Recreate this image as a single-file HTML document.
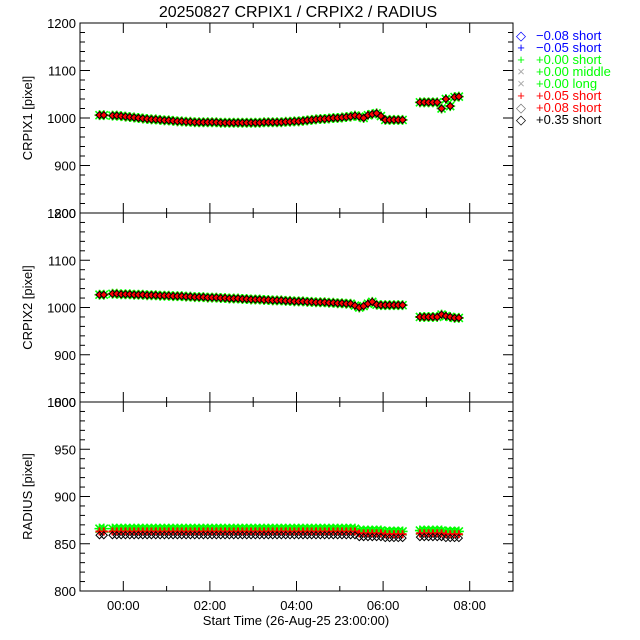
<!DOCTYPE html>
<html><head><meta charset="utf-8"><style>
html,body{margin:0;padding:0;background:#fff;}
svg{display:block;font-family:"Liberation Sans",sans-serif;}
</style></head><body>
<svg id="chart" width="640" height="640" viewBox="0 0 640 640" xmlns="http://www.w3.org/2000/svg">
<rect width="640" height="640" fill="#fff"/>
<text x="298" y="17" font-size="16" text-anchor="middle">20250827 CRPIX1 / CRPIX2 / RADIUS</text>
<g id="axes"></g>
<g id="marks"></g>
<g id="legend"></g>
</svg>
<script>
// ---- data ----
const times = [-0.55,-0.45,
-0.25,-0.15,-0.05,0.05,0.15,0.25,0.35,0.45,0.55,0.65,0.75,0.85,0.95,1.05,1.15,1.25,1.35,1.45,1.55,1.65,1.75,1.85,1.95,2.05,2.15,2.25,2.35,2.45,2.55,2.65,2.75,2.85,2.95,3.05,3.15,3.25,3.35,3.45,3.55,3.65,3.75,3.85,3.95,4.05,4.15,4.25,4.35,4.45,4.55,4.65,4.75,4.85,4.95,5.05,5.15,5.25,5.35,5.45,5.55,5.65,5.75,5.85,5.95,6.05,6.15,6.25,6.35,6.45,
6.85,6.95,7.05,7.15,7.25,7.35,7.45,7.55,7.65,7.75];
const crpix1 = [1006,1006,
1005,1005,1004,1003,1002,1001,1000,999,998,997,997,996,995,995,994,993,993,992,992,991,991,991,991,991,991,990,990,990,990,990,990,990,990,990,990,991,991,991,991,991,992,992,993,993,994,995,996,997,998,998,999,1000,1000,1001,1002,1003,1005,1003,1000,1006,1008,1010,1004,996,996,996,996,996,
1033,1033,1033,1033,1033,1020,1040,1025,1044,1045];
const crpix2 = [1027,1027,
1029,1029,1028,1028,1028,1027,1027,1027,1026,1026,1026,1025,1025,1025,1024,1024,1024,1023,1023,1022,1022,1022,1021,1021,1021,1020,1020,1019,1019,1019,1018,1018,1017,1017,1017,1016,1016,1015,1015,1015,1014,1014,1013,1013,1013,1012,1012,1011,1011,1011,1010,1010,1009,1009,1008,1008,1004,1000,1003,1008,1012,1006,1005,1005,1005,1005,1005,1005,
980,980,980,980,980,985,982,980,978,978];
const radius = [863,863,
863,863,863,863,863,863,863,863,863,863,863,863,863,863,863,863,863,863,863,863,863,863,863,863,863,863,863,863,863,863,863,863,863,863,863,863,863,863,863,863,863,863,863,863,863,863,863,863,863,863,863,863,863,863,863,863,863,861,861,861,861,861,861,860,860,860,860,860,
861,861,861,861,861,861,860,860,860,860];
const seriesNames = ["green-short","red-short","black-short"];
const seriesOffsets = [3,0,-4];
const xTickLabels = ["00:00","02:00","04:00","06:00","08:00"];
const xTickHours = [0,2,4,6,8];

// ---- layout ----
const L=80,R=513,xMin=-1,xMax=9;
const panels=[
 {name:"crpix1",top:23,bot:213,min:800,max:1200,major:[800,900,1000,1100,1200],minor:20,label:"CRPIX1 [pixel]",vals:crpix1,offs:[0,0,0]},
 {name:"crpix2",top:213,bot:402,min:800,max:1200,major:[800,900,1000,1100,1200],minor:20,label:"CRPIX2 [pixel]",vals:crpix2,offs:[0,0,0]},
 {name:"radius",top:402,bot:591,min:800,max:1000,major:[800,850,900,950,1000],minor:10,label:"RADIUS [pixel]",vals:radius,offs:seriesOffsets}
];
const NS="http://www.w3.org/2000/svg";
function mk(tag,attrs,parent){const e=document.createElementNS(NS,tag);for(const k in attrs)e.setAttribute(k,attrs[k]);parent.appendChild(e);return e;}
const xs=h=>L+(h-xMin)/(xMax-xMin)*(R-L);
const axes=document.getElementById('axes'),marks=document.getElementById('marks');

panels.forEach((p,pi)=>{
 const ys=v=>p.bot-(v-p.min)/(p.max-p.min)*(p.bot-p.top);
 const g=mk('g',{},axes);
 
 
 mk('rect',{x:L,y:p.top,width:R-L,height:p.bot-p.top,fill:'none',stroke:'#000','stroke-width':1},g);
 for(let v=p.min;v<=p.max;v+=p.minor){
  const y=ys(v);const maj=p.major.includes(v);const len=maj?10:5;
  mk('line',{x1:L,x2:L+len,y1:y,y2:y,stroke:'#000'},g);
  mk('line',{x1:R,x2:R-len,y1:y,y2:y,stroke:'#000'},g);
 }
 p.major.forEach(v=>{
  const t=mk('text',{x:L-4,y:ys(v)+5,'font-size':13,'text-anchor':'end'},g);
  
  
  t.textContent=v;
 });
 for(let h=-1;h<=9;h++){
  const x=xs(h);const len=(h%2===0)?10:5;
  mk('line',{x1:x,x2:x,y1:p.bot,y2:p.bot-len,stroke:'#000'},g);
  mk('line',{x1:x,x2:x,y1:p.top,y2:p.top+len,stroke:'#000'},g);
 }
 const cy=(p.top+p.bot)/2;
 const yl=mk('text',{x:32,y:cy,'font-size':13,'text-anchor':'middle',transform:`rotate(-90 32 ${cy})`},g);
 
 
 yl.textContent=p.label;

 const mg=mk('g',{},marks);
 
 
 times.forEach((t,i)=>{
  const x=xs(t),y=ys(p.vals[i]+p.offs[0]);
  const e=mk('path',{d:`M${x-5} ${y}h10M${x} ${y-5}v10M${x-4} ${y-4}l8 8M${x+4} ${y-4}l-8 8`,stroke:'#00ff00','stroke-width':1.6},mg);
  
  
 });
 times.forEach((t,i)=>{
  const x=xs(t),y=ys(p.vals[i]+p.offs[1]);
  const e=mk('path',{d:`M${x-4} ${y}h8M${x} ${y-4}v8`,stroke:'#ff0000','stroke-width':2},mg);
  
  
 });
 times.forEach((t,i)=>{
  const x=xs(t),y=ys(p.vals[i]+p.offs[2]);
  const e=mk('path',{d:`M${x} ${y-3.5}l3.5 3.5l-3.5 3.5l-3.5 -3.5z`,stroke:'#000',fill:pi<2?'#ff0000':'none','stroke-width':1},mg);
  
  
 });
});

xTickHours.forEach((h,i)=>{
 const t=mk('text',{x:xs(h),y:610,'font-size':13,'text-anchor':'middle'},axes);
 
 
 t.textContent=xTickLabels[i];
});
const xt=mk('text',{x:296,y:625,'font-size':13,'text-anchor':'middle'},axes);


xt.textContent='Start Time (26-Aug-25 23:00:00)';

const legItems=[["◇","−0.08 short","#0000ff","#0000ff"],["+","−0.05 short","#0000ff","#0000ff"],["+","+0.00 short","#00ff00","#00ff00"],["×","+0.00 middle","#aaaaaa","#00ff00"],["×","+0.00 long","#aaaaaa","#00ff00"],["+","+0.05 short","#ff0000","#ff0000"],["◇","+0.08 short","#777777","#ff0000"],["◇","+0.35 short","#000000","#000000"]];
const lg=document.getElementById('legend');
legItems.forEach((it,i)=>{
 const y=40+i*12;
 const s=mk('text',{x:521,y:y,'font-size':13,fill:it[2],'text-anchor':'middle'},lg);
 
 
 s.textContent=it[0];
 const t=mk('text',{x:536,y:y,'font-size':13,fill:it[3]},lg);
 
 
 t.textContent=it[1];
});
</script>
</body></html>
